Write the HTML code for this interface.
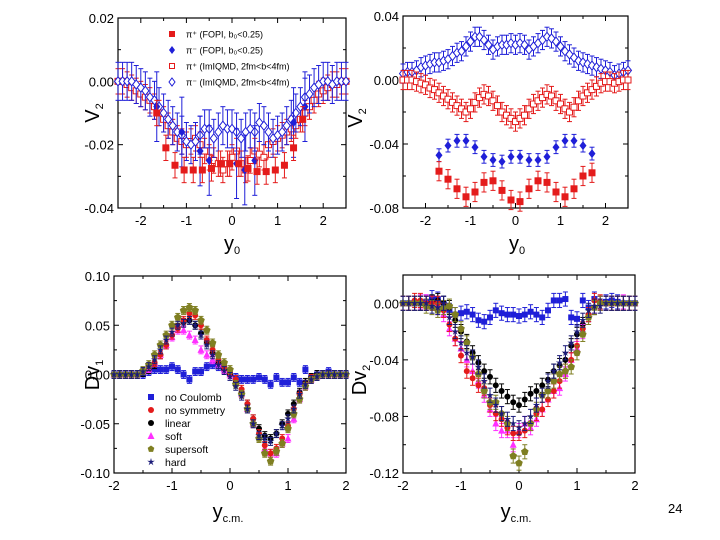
<!DOCTYPE html>
<html><head><meta charset="utf-8"><style>
body{margin:0;background:#fff;width:720px;height:540px;overflow:hidden;font-family:"Liberation Sans",Arial,sans-serif}
svg{position:absolute;left:0;top:0}
</style></head><body>
<svg id="chart" width="720" height="540" viewBox="0 0 720 540"></svg>
<script>
const X51=[-2.5,-2.4,-2.3,-2.2,-2.1,-2.0,-1.9,-1.8,-1.7,-1.6,-1.5,-1.4,-1.3,-1.2,-1.1,-1.0,-0.9,-0.8,-0.7,-0.6,-0.5,-0.4,-0.3,-0.2,-0.1,0,0.1,0.2,0.3,0.4,0.5,0.6,0.7,0.8,0.9,1.0,1.1,1.2,1.3,1.4,1.5,1.6,1.7,1.8,1.9,2.0,2.1,2.2,2.3,2.4,2.5];
const X41=[-2.0,-1.9,-1.8,-1.7,-1.6,-1.5,-1.4,-1.3,-1.2,-1.1,-1.0,-0.9,-0.8,-0.7,-0.6,-0.5,-0.4,-0.3,-0.2,-0.1,0,0.1,0.2,0.3,0.4,0.5,0.6,0.7,0.8,0.9,1.0,1.1,1.2,1.3,1.4,1.5,1.6,1.7,1.8,1.9,2.0];
// Panel 1
const p1FopiPlusX=[-1.65,-1.45,-1.25,-1.05,-0.85,-0.65,-0.45,-0.25,-0.05,0.15,0.35,0.55,0.75,0.95,1.15,1.35,1.55];
const p1FopiPlusY=[-0.010,-0.021,-0.0265,-0.028,-0.028,-0.028,-0.0275,-0.026,-0.026,-0.026,-0.0275,-0.0285,-0.0285,-0.028,-0.0265,-0.021,-0.012];
const p1FopiMinusX=[-1.65,-1.1,-0.7,-0.5,0.1,0.28,0.5,1.35,1.6];
const p1FopiMinusY=[-0.008,-0.016,-0.022,-0.025,-0.026,-0.028,-0.025,-0.013,-0.008];
const p1IqmdPlusY=[0,0,-0.001,-0.002,-0.003,-0.004,-0.005,-0.006,-0.008,-0.010,-0.012,-0.014,-0.016,-0.018,-0.019,-0.02,-0.019,-0.018,-0.02,-0.022,-0.024,-0.025,-0.026,-0.028,-0.026,-0.024,-0.022,-0.026,-0.028,-0.025,-0.022,-0.023,-0.024,-0.02,-0.019,-0.018,-0.017,-0.016,-0.015,-0.014,-0.012,-0.01,-0.008,-0.006,-0.004,-0.003,-0.002,-0.001,-0.001,0,0];
const p1IqmdMinusY=[0,0,0,0,-0.001,-0.002,-0.003,-0.005,-0.006,-0.008,-0.01,-0.012,-0.014,-0.016,-0.017,-0.019,-0.02,-0.019,-0.017,-0.015,-0.015,-0.018,-0.016,-0.014,-0.015,-0.015,-0.016,-0.018,-0.016,-0.015,-0.016,-0.013,-0.014,-0.016,-0.018,-0.017,-0.016,-0.014,-0.012,-0.01,-0.008,-0.005,-0.004,-0.002,-0.001,0,0,-0.001,0,0,0];
// Panel 2
const p2FopiX=[-1.7,-1.5,-1.3,-1.1,-0.9,-0.7,-0.5,-0.3,-0.1,0.1,0.3,0.5,0.7,0.9,1.1,1.3,1.5,1.7];
const p2FopiMinusY=[-0.047,-0.041,-0.038,-0.038,-0.042,-0.048,-0.050,-0.051,-0.048,-0.048,-0.050,-0.050,-0.048,-0.042,-0.038,-0.038,-0.041,-0.046];
const p2FopiPlusY=[-0.057,-0.062,-0.068,-0.073,-0.070,-0.064,-0.063,-0.069,-0.075,-0.076,-0.068,-0.063,-0.064,-0.070,-0.073,-0.068,-0.060,-0.058];
const p2IqmdMinusY=[0.004,0.005,0.005,0.006,0.008,0.009,0.01,0.011,0.011,0.012,0.013,0.015,0.017,0.018,0.021,0.024,0.027,0.027,0.025,0.022,0.019,0.021,0.022,0.022,0.023,0.022,0.023,0.022,0.019,0.021,0.023,0.025,0.027,0.026,0.024,0.021,0.018,0.016,0.014,0.012,0.011,0.01,0.009,0.008,0.007,0.006,0.005,0.003,0.004,0.005,0.006];
const p2IqmdPlusY=[0,0,0,-0.001,-0.002,-0.003,-0.005,-0.006,-0.008,-0.01,-0.012,-0.014,-0.016,-0.018,-0.02,-0.018,-0.014,-0.011,-0.009,-0.01,-0.013,-0.016,-0.02,-0.022,-0.024,-0.026,-0.024,-0.022,-0.018,-0.015,-0.013,-0.011,-0.009,-0.01,-0.013,-0.015,-0.018,-0.02,-0.017,-0.013,-0.01,-0.008,-0.006,-0.004,-0.002,-0.001,-0.001,-0.002,-0.001,0,0];
// Panel 3 (Dv1)
const p3NoCoul=[0,0,0,0,0,0,0.003,0.005,0.005,0.005,0.008,0.005,0,-0.005,0.003,0.003,0.008,0.01,0.008,0.005,0,-0.003,-0.005,-0.005,-0.005,-0.003,-0.005,-0.01,-0.003,-0.008,-0.008,-0.003,-0.008,0.005,-0.003,0,0,0.003,0,0,0];
const p3NoSym=[0,0,0,0,0,0.003,0.008,0.012,0.02,0.03,0.04,0.047,0.055,0.062,0.06,0.05,0.035,0.025,0.015,0.008,0.002,-0.005,-0.015,-0.03,-0.045,-0.06,-0.072,-0.08,-0.075,-0.065,-0.052,-0.035,-0.02,-0.01,-0.004,-0.002,0,0,0,0,0];
const p3Linear=[0,0,0,0,0,0.002,0.005,0.01,0.02,0.03,0.04,0.048,0.053,0.055,0.05,0.042,0.033,0.022,0.012,0.005,0,-0.008,-0.018,-0.03,-0.045,-0.055,-0.062,-0.065,-0.06,-0.05,-0.04,-0.03,-0.018,-0.008,-0.003,0,0,0,0,0,0];
const p3Soft=[0,0,0,0,0,0.003,0.006,0.012,0.02,0.03,0.038,0.045,0.045,0.04,0.035,0.025,0.02,0.015,0.01,0.005,0,-0.008,-0.02,-0.035,-0.05,-0.062,-0.075,-0.08,-0.08,-0.07,-0.065,-0.045,-0.025,-0.012,-0.005,-0.002,0,0,0,0,0];
const p3Supersoft=[0,0,0,0,0,0.004,0.01,0.02,0.03,0.04,0.05,0.058,0.065,0.068,0.065,0.055,0.045,0.032,0.02,0.012,0.005,-0.01,-0.02,-0.035,-0.05,-0.065,-0.08,-0.088,-0.078,-0.07,-0.055,-0.04,-0.025,-0.012,-0.005,-0.002,0,0,0,0,0];
const p3Hard=[0,0,0,0,0,0.003,0.008,0.015,0.025,0.035,0.043,0.05,0.052,0.055,0.05,0.04,0.03,0.02,0.01,0.004,-0.002,-0.012,-0.022,-0.035,-0.05,-0.062,-0.065,-0.068,-0.06,-0.052,-0.045,-0.035,-0.02,-0.01,-0.005,-0.002,0,0,0,0,0];
// Panel 4 (Dv2)
const p4NoCoul=[0,0,0,0,0.001,0.004,0.003,0,-0.005,-0.008,-0.007,-0.006,-0.008,-0.012,-0.013,-0.01,-0.005,-0.007,-0.008,-0.008,-0.009,-0.008,-0.006,-0.008,-0.01,-0.005,0.002,0.002,0.003,-0.01,-0.011,0.002,-0.003,0.003,0,0.001,0.002,0.001,0,0,0];
const p4NoSym=[0,0,0.002,0.002,0,0,0,-0.005,-0.015,-0.025,-0.037,-0.048,-0.053,-0.058,-0.06,-0.072,-0.078,-0.082,-0.088,-0.092,-0.092,-0.09,-0.085,-0.078,-0.075,-0.068,-0.062,-0.055,-0.048,-0.04,-0.03,-0.018,-0.008,0.002,0.001,0,0,0,0,0,0];
const p4Linear=[0,0,0,0,0,0.001,0.002,0,-0.003,-0.012,-0.02,-0.027,-0.035,-0.042,-0.048,-0.052,-0.058,-0.062,-0.066,-0.07,-0.072,-0.068,-0.064,-0.062,-0.058,-0.054,-0.048,-0.044,-0.04,-0.03,-0.022,-0.015,-0.008,-0.003,0,0,0,0,0,0,0];
const p4Soft=[0,0,0,0.001,0.001,0,-0.003,-0.008,-0.018,-0.025,-0.032,-0.04,-0.048,-0.055,-0.065,-0.075,-0.085,-0.09,-0.09,-0.1,-0.09,-0.085,-0.088,-0.082,-0.075,-0.068,-0.062,-0.06,-0.05,-0.04,-0.032,-0.02,-0.008,-0.002,0,0,0,0,0.001,0,0];
const p4Supersoft=[0,0,0,0,-0.002,-0.003,-0.005,-0.003,-0.002,-0.008,-0.018,-0.028,-0.038,-0.05,-0.062,-0.07,-0.07,-0.078,-0.085,-0.108,-0.113,-0.105,-0.085,-0.075,-0.065,-0.062,-0.055,-0.05,-0.048,-0.045,-0.035,-0.022,-0.01,-0.003,0,0,0,0,0,0,0];
const p4Hard=[0,0,0,0,0,-0.002,-0.003,0,-0.01,-0.02,-0.028,-0.035,-0.038,-0.045,-0.055,-0.065,-0.072,-0.078,-0.082,-0.085,-0.088,-0.085,-0.08,-0.072,-0.065,-0.055,-0.048,-0.042,-0.035,-0.028,-0.02,-0.012,-0.005,-0.002,-0.002,0,0,0,0,0,0];

const NS='http://www.w3.org/2000/svg';
const svg=document.getElementById('chart');
function mk(tag,attrs,parent){const e=document.createElementNS(NS,tag);for(const k in attrs)e.setAttribute(k,attrs[k]);(parent||svg).appendChild(e);return e;}
const RED='#e41b1b',BLUE='#1f1fd8',NAVY='#1a1a78',MAG='#ff30ff',OLIVE='#7f7f22',BLK='#000';

function panel(name,c){
  const g=mk('g',{});
  
  
  const sx=v=>c.l+(v-c.x0)/(c.x1-c.x0)*(c.r-c.l);
  const sy=v=>c.b-(v-c.y0)/(c.y1-c.y0)*(c.b-c.t);
  const fr=mk('rect',{x:c.l,y:c.t,width:c.r-c.l,height:c.b-c.t,fill:'none',stroke:'#000','stroke-width':1.2},g);
  
  
  const tg=mk('g',{stroke:'#000','stroke-width':1},g);
  for(let v=c.x0;v<=c.x1+1e-9;v+=c.xminor){const x=sx(v);const maj=Math.abs(v/c.xmajor-Math.round(v/c.xmajor))<1e-6;const L=maj?5:3;
    mk('line',{x1:x,y1:c.b,x2:x,y2:c.b-L},tg);mk('line',{x1:x,y1:c.t,x2:x,y2:c.t+L},tg);}
  for(let v=c.y0;v<=c.y1+1e-9;v+=c.yminor){const y=sy(v);const maj=Math.abs(v/c.ymajor-Math.round(v/c.ymajor))<1e-6;const L=maj?5:3;
    mk('line',{x1:c.l,y1:y,x2:c.l+L,y2:y},tg);mk('line',{x1:c.r,y1:y,x2:c.r-L,y2:y},tg);}
  c.xticks.forEach(v=>{const t=mk('text',{x:sx(v),y:c.b+17,'text-anchor':'middle','font-size':13,fill:'#000'},g);t.textContent=String(v);
    });
  c.yticks.forEach((v,i)=>{const t=mk('text',{x:c.l-4,y:sy(v)+5,'text-anchor':'end','font-size':13,fill:'#000'},g);t.textContent=c.ylabels[i];
    });
  return {g,sx,sy};
}
function marker(g,type,x,y,col,s){
  const h=s/2;
  if(type==='sq')mk('rect',{x:x-h,y:y-h,width:s,height:s,fill:col},g);
  else if(type==='osq')mk('rect',{x:x-h+0.5,y:y-h+0.5,width:s-1,height:s-1,fill:'#fff',stroke:col,'stroke-width':1},g);
  else if(type==='dia')mk('polygon',{points:`${x},${y-h-1} ${x+h},${y} ${x},${y+h+1} ${x-h},${y}`,fill:col},g);
  else if(type==='odia')mk('polygon',{points:`${x},${y-h-1} ${x+h},${y} ${x},${y+h+1} ${x-h},${y}`,fill:'#fff',stroke:col,'stroke-width':1},g);
  else if(type==='cir')mk('circle',{cx:x,cy:y,r:h,fill:col},g);
  else if(type==='tri')mk('polygon',{points:`${x},${y-h-1} ${x+h+0.5},${y+h} ${x-h-0.5},${y+h}`,fill:col},g);
  else if(type==='pent'){let p=[];for(let k=0;k<5;k++){const a=-Math.PI/2+k*2*Math.PI/5;p.push((x+(h+0.5)*Math.cos(a))+','+(y+(h+0.5)*Math.sin(a)));}mk('polygon',{points:p.join(' '),fill:col},g);}
  else if(type==='star'){let p=[];for(let k=0;k<10;k++){const a=-Math.PI/2+k*Math.PI/5;const r=k%2?h*0.45:h+1;p.push((x+r*Math.cos(a))+','+(y+r*Math.sin(a)));}mk('polygon',{points:p.join(' '),fill:col},g);}
}
function series(P,name,xs,ys,err,type,col,s){
  const g=mk('g',{},P.g);
  
  
  xs.forEach((xv,i)=>{const x=P.sx(xv),y=P.sy(ys[i]),e1=P.sy(ys[i]+err),e2=P.sy(ys[i]-err);
    mk('line',{x1:x,y1:e1,x2:x,y2:e2,stroke:col,'stroke-width':1},g);
    mk('line',{x1:x-2.5,y1:e1,x2:x+2.5,y2:e1,stroke:col,'stroke-width':1},g);
    mk('line',{x1:x-2.5,y1:e2,x2:x+2.5,y2:e2,stroke:col,'stroke-width':1},g);
  });
  xs.forEach((xv,i)=>marker(g,type,P.sx(xv),P.sy(ys[i]),col,s));
}
function label(txt,sub,x,y,rot,name,size){
  const t=mk('text',{x:x,y:y,'font-size':size||20,fill:'#000','text-anchor':'middle',transform:rot?`rotate(-90 ${x} ${y})`:''});
  
  t.appendChild(document.createTextNode(txt));
  const ts=mk('tspan',{'font-size':(size||20)*0.55,dy:4},t);ts.textContent=sub;
}

// Panel 1
const P1=panel('panel-v2-top-left',{l:118,r:346,t:18,b:208,x0:-2.5,x1:2.5,y0:-0.04,y1:0.02,xmajor:1,xminor:0.5,ymajor:0.02,yminor:0.01,xticks:[-2,-1,0,1,2],yticks:[-0.04,-0.02,0,0.02],ylabels:['-0.04','-0.02','0.00','0.02']});
series(P1,'series-iqmd-pi-plus',X51,p1IqmdPlusY,0.004,'osq',RED,7);
series(P1,'series-iqmd-pi-minus',X51,p1IqmdMinusY,0.006,'odia',BLUE,7);
series(P1,'series-fopi-pi-minus',p1FopiMinusX,p1FopiMinusY,0.011,'dia',BLUE,7);
series(P1,'series-fopi-pi-plus',p1FopiPlusX,p1FopiPlusY,0.004,'sq',RED,7);
const L1=mk('g',{'font-size':9,fill:'#000'});

[['sq',RED,'π⁺ (FOPI, b₀<0.25)'],['dia',BLUE,'π⁻ (FOPI, b₀<0.25)'],['osq',RED,'π⁺ (ImIQMD, 2fm<b<4fm)'],['odia',BLUE,'π⁻ (ImIQMD, 2fm<b<4fm)']].forEach((r,i)=>{
  const y=34+i*16;const e=mk('g',{},L1);
  marker(e,r[0],172,y,r[1],6);const t=mk('text',{x:186,y:y+3.5},e);t.textContent=r[2];});
label('V','2',99,113,true,'y-axis-title',20);
label('y','0',232,250,false,'x-axis-title',20);

// Panel 2
const P2=panel('panel-v2-top-right',{l:403,r:628,t:16,b:208,x0:-2.5,x1:2.5,y0:-0.08,y1:0.04,xmajor:1,xminor:0.5,ymajor:0.04,yminor:0.02,xticks:[-2,-1,0,1,2],yticks:[-0.08,-0.04,0,0.04],ylabels:['-0.08','-0.04','0.00','0.04']});
series(P2,'series-iqmd-pi-minus',X51,p2IqmdMinusY,0.006,'odia',BLUE,7);
series(P2,'series-iqmd-pi-plus',X51,p2IqmdPlusY,0.006,'osq',RED,7);
series(P2,'series-fopi-pi-minus',p2FopiX,p2FopiMinusY,0.004,'dia',BLUE,7);
series(P2,'series-fopi-pi-plus',p2FopiX,p2FopiPlusY,0.006,'sq',RED,7);
label('V','2',362,118,true,'y-axis-title',20);
label('y','0',517,250,false,'x-axis-title',20);

// Panel 3
const P3=panel('panel-dv1-bottom-left',{l:114,r:346,t:276,b:473,x0:-2,x1:2,y0:-0.1,y1:0.1,xmajor:1,xminor:0.5,ymajor:0.05,yminor:0.025,xticks:[-2,-1,0,1,2],yticks:[-0.1,-0.05,0,0.05,0.1],ylabels:['-0.10','-0.05','0.00','0.05','0.10']});
series(P3,'series-no-coulomb',X41,p3NoCoul,0.004,'sq',BLUE,6);
series(P3,'series-linear',X41,p3Linear,0.004,'cir',BLK,6);
series(P3,'series-soft',X41,p3Soft,0.004,'tri',MAG,6);
series(P3,'series-no-symmetry',X41,p3NoSym,0.004,'cir',RED,6);
series(P3,'series-supersoft',X41,p3Supersoft,0.004,'pent',OLIVE,7);
series(P3,'series-hard',X41,p3Hard,0.004,'star',NAVY,6);
const L3=mk('g',{'font-size':10.5,fill:'#000'});

[['sq',BLUE,'no Coulomb'],['cir',RED,'no symmetry'],['cir',BLK,'linear'],['tri',MAG,'soft'],['pent',OLIVE,'supersoft'],['star',NAVY,'hard']].forEach((r,i)=>{
  const y=397+i*13;const e=mk('g',{},L3);
  marker(e,r[0],151,y,r[1],6);const t=mk('text',{x:165,y:y+4},e);t.textContent=r[2];});
label('Dv','1',99,375,true,'y-axis-title',20);
label('y','c.m.',228,518,false,'x-axis-title',20);

// Panel 4
const P4=panel('panel-dv2-bottom-right',{l:403,r:635,t:275,b:473,x0:-2,x1:2,y0:-0.12,y1:0.02,xmajor:1,xminor:0.5,ymajor:0.04,yminor:0.02,xticks:[-2,-1,0,1,2],yticks:[-0.12,-0.08,-0.04,0],ylabels:['-0.12','-0.08','-0.04','0.00']});
series(P4,'series-no-coulomb',X41,p4NoCoul,0.005,'sq',BLUE,6);
series(P4,'series-linear',X41,p4Linear,0.005,'cir',BLK,6);
series(P4,'series-soft',X41,p4Soft,0.005,'tri',MAG,6);
series(P4,'series-no-symmetry',X41,p4NoSym,0.005,'cir',RED,6);
series(P4,'series-supersoft',X41,p4Supersoft,0.005,'pent',OLIVE,7);
series(P4,'series-hard',X41,p4Hard,0.005,'star',NAVY,6);
label('Dv','2',366,380,true,'y-axis-title',20);
label('y','c.m.',516,518,false,'x-axis-title',20);

const pn=mk('text',{x:668,y:513,'font-size':13,fill:'#000'});

pn.textContent='24';
</script>
</body></html>
